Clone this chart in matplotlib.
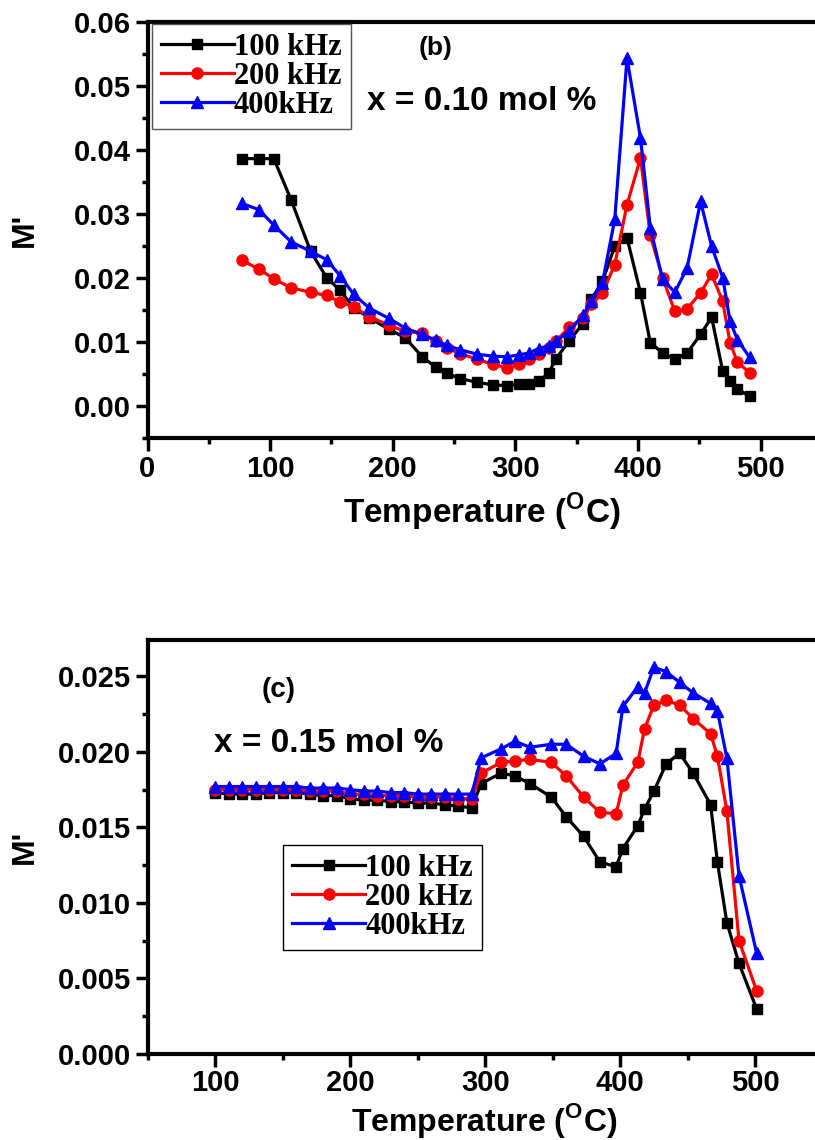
import numpy as np
import matplotlib
matplotlib.use("Agg")
import matplotlib.pyplot as plt
from matplotlib.ticker import MultipleLocator, FormatStrFormatter

plt.rcParams["font.family"] = ["Liberation Sans", "DejaVu Sans"]
plt.rcParams["font.weight"] = "bold"
plt.rcParams["mathtext.fontset"] = "custom"
plt.rcParams["mathtext.bf"] = "Liberation Sans:bold"
plt.rcParams["mathtext.rm"] = "Liberation Sans:bold"

# ---- panel (b): x = 0.10 mol %
temp_b = [77, 91, 103, 117, 133, 146, 157, 168, 181, 197, 210, 224, 235, 244,
          255, 269, 282, 293, 303, 311, 319, 327, 333, 344, 355, 362, 371, 381,
          391, 402, 410, 420, 430, 440, 451, 460, 469, 475, 481, 491]
m_b_100 = [0.0387, 0.0387, 0.0387, 0.0323, 0.0242, 0.0201, 0.0181, 0.0154,
           0.0138, 0.0120, 0.0107, 0.0077, 0.0061, 0.0051, 0.0043, 0.0037,
           0.0033, 0.0032, 0.0034, 0.0035, 0.0039, 0.0051, 0.0074, 0.0102,
           0.0129, 0.0167, 0.0195, 0.0250, 0.0263, 0.0177, 0.0099, 0.0083,
           0.0073, 0.0083, 0.0112, 0.0139, 0.0055, 0.0039, 0.0027, 0.0015]
m_b_200 = [0.0228, 0.0214, 0.0199, 0.0185, 0.0178, 0.0173, 0.0163, 0.0155,
           0.0140, 0.0126, 0.0117, 0.0114, 0.0101, 0.0091, 0.0082, 0.0073,
           0.0065, 0.0060, 0.0065, 0.0073, 0.0081, 0.0091, 0.0102, 0.0123,
           0.0138, 0.0159, 0.0177, 0.0221, 0.0315, 0.0388, 0.0267, 0.0201,
           0.0148, 0.0152, 0.0177, 0.0206, 0.0164, 0.0099, 0.0069, 0.0052]
m_b_400 = [0.0317, 0.0307, 0.0283, 0.0257, 0.0242, 0.0229, 0.0204, 0.0175,
           0.0153, 0.0137, 0.0122, 0.0112, 0.0103, 0.0095, 0.0088, 0.0081,
           0.0078, 0.0077, 0.0080, 0.0083, 0.0090, 0.0094, 0.0102, 0.0117,
           0.0142, 0.0164, 0.0193, 0.0292, 0.0544, 0.0419, 0.0279, 0.0198,
           0.0178, 0.0216, 0.0320, 0.0250, 0.0201, 0.0133, 0.0104, 0.0076]

# ---- panel (c): x = 0.15 mol %
temp_c = [100, 110, 120, 130, 140, 150, 160, 170, 180, 190, 200, 210, 220, 230,
          240, 250, 260, 270, 280, 290, 297, 312, 322, 333, 349, 360, 373, 385,
          397, 402, 413, 418, 425, 434, 444, 454, 467, 472, 479, 488, 501]
m_c_100 = [0.0173, 0.0172, 0.0172, 0.0172, 0.0173, 0.0173, 0.0173, 0.0172,
           0.0171, 0.0171, 0.0169, 0.0168, 0.0168, 0.0167, 0.0167, 0.0166,
           0.0166, 0.0165, 0.0164, 0.0163,
           0.0179, 0.0186, 0.0184, 0.0179, 0.0170, 0.0157, 0.0144, 0.0127,
           0.0124, 0.0136, 0.0151, 0.0162, 0.0174, 0.0192, 0.0199, 0.0186,
           0.0165, 0.0127, 0.0087, 0.0060, 0.0030]
m_c_200 = [0.0175, 0.0175, 0.0175, 0.0175, 0.0175, 0.0175, 0.0175, 0.0174,
           0.0174, 0.0174, 0.0172, 0.0172, 0.0171, 0.0171, 0.0171, 0.0170,
           0.0170, 0.0170, 0.0169, 0.0169,
           0.0186, 0.0193, 0.0194, 0.0195, 0.0193, 0.0184, 0.0170, 0.0160,
           0.0159, 0.0178, 0.0193, 0.0215, 0.0231, 0.0234, 0.0231, 0.0222,
           0.0212, 0.0197, 0.0161, 0.0075, 0.0042]
m_c_400 = [0.0177, 0.0177, 0.0177, 0.0177, 0.0177, 0.0177, 0.0177, 0.0176,
           0.0176, 0.0176, 0.0175, 0.0174, 0.0174, 0.0173, 0.0173, 0.0172,
           0.0172, 0.0172, 0.0172, 0.0172,
           0.0196, 0.0202, 0.0207, 0.0203, 0.0205, 0.0205, 0.0197, 0.0192,
           0.0199, 0.0230, 0.0243, 0.0239, 0.0256, 0.0253, 0.0246, 0.0239,
           0.0232, 0.0227, 0.0196, 0.0118, 0.0067]

labels = ["100 kHz", "200 kHz", "400kHz"]
colors = ["black", "red", "blue"]
markers = ["s", "o", "^"]
msizes = [7.5, 8, 9]

W, H = 815, 1140
fig = plt.figure(figsize=(W / 100, H / 100), dpi=100)
ax1 = fig.add_axes([147.5 / W, 1 - 438 / H, (822 - 147.5) / W, (438 - 22.5) / H])
ax2 = fig.add_axes([147.7 / W, 1 - 1054 / H, (822.7 - 147.7) / W, (1054 - 640) / H])

xlabel = r"Temperature ($^{\mathbf{O}}$C)"


def style_axes(ax):
    for side in ["left", "bottom", "top", "right"]:
        ax.spines[side].set_linewidth(3)
    ax.tick_params(which="major", direction="out", length=9, width=2.5,
                   labelsize=21, pad=3, top=False, right=False)
    ax.tick_params(which="minor", direction="out", length=4, width=2.5,
                   top=False, right=False)
    for lab in ax.get_xticklabels() + ax.get_yticklabels():
        lab.set_fontweight("bold")
    ax.set_ylabel("M'", fontsize=23, fontweight="bold")
    ax.yaxis.set_label_coords(-0.16, 0.5)


def add_legend(ax, anchor, edge):
    leg = ax.legend(loc="upper left", bbox_to_anchor=anchor,
                    borderaxespad=0, fancybox=False, framealpha=1,
                    edgecolor=edge, handlelength=2.4, labelspacing=0.0,
                    handletextpad=0.0, borderpad=0.3,
                    prop={"family": "Liberation Serif", "weight": "bold",
                          "size": 22})
    leg.get_frame().set_linewidth(1.0)
    return leg


series_b = [m_b_100, m_b_200, m_b_400]
for vals, lab, c, mk, ms in zip(series_b, labels, colors, markers, msizes):
    ax1.plot(temp_b, vals, color=c, marker=mk, markersize=ms, linewidth=2.3,
             label=lab)
ax1.set_xlim(0, 550)
ax1.set_ylim(-0.005, 0.06)
ax1.xaxis.set_major_locator(MultipleLocator(100))
ax1.xaxis.set_minor_locator(MultipleLocator(50))
ax1.yaxis.set_major_locator(MultipleLocator(0.01))
ax1.yaxis.set_minor_locator(MultipleLocator(0.005))
ax1.yaxis.set_major_formatter(FormatStrFormatter("%.2f"))
style_axes(ax1)
add_legend(ax1, (0.006, 0.997), "#555555")
fig.text(436 / W, 1 - 48 / H, "(b)", fontsize=19, fontweight="bold",
         ha="center", va="center")
fig.text(482 / W, 1 - 102 / H, "x = 0.10 mol %", fontsize=24,
         fontweight="bold", ha="center", va="center")
fig.text(482 / W, 1 - 512 / H, xlabel, fontsize=24, fontweight="bold",
         ha="center", va="center")

series_c = [m_c_100, m_c_200, m_c_400]
for vals, lab, c, mk, ms in zip(series_c, labels, colors, markers, msizes):
    ax2.plot(temp_c, vals, color=c, marker=mk, markersize=ms, linewidth=2.3,
             label=lab)
ax2.set_xlim(50, 550)
ax2.set_ylim(0, 0.0274)
ax2.xaxis.set_major_locator(MultipleLocator(100))
ax2.xaxis.set_minor_locator(MultipleLocator(50))
ax2.yaxis.set_major_locator(MultipleLocator(0.005))
ax2.yaxis.set_minor_locator(MultipleLocator(0.0025))
ax2.yaxis.set_major_formatter(FormatStrFormatter("%.3f"))
style_axes(ax2)
ax2.tick_params(axis="x", pad=2)
add_legend(ax2, (0.2, 0.505), "black")
fig.text(279 / W, 1 - 690 / H, "(c)", fontsize=20, fontweight="bold",
         ha="center", va="center")
fig.text(329 / W, 1 - 743 / H, "x = 0.15 mol %", fontsize=24,
         fontweight="bold", ha="center", va="center")
fig.text(484 / W, 1 - 1120 / H, xlabel, fontsize=23, fontweight="bold",
         ha="center", va="center")

fig.savefig("out.png", dpi=100)
